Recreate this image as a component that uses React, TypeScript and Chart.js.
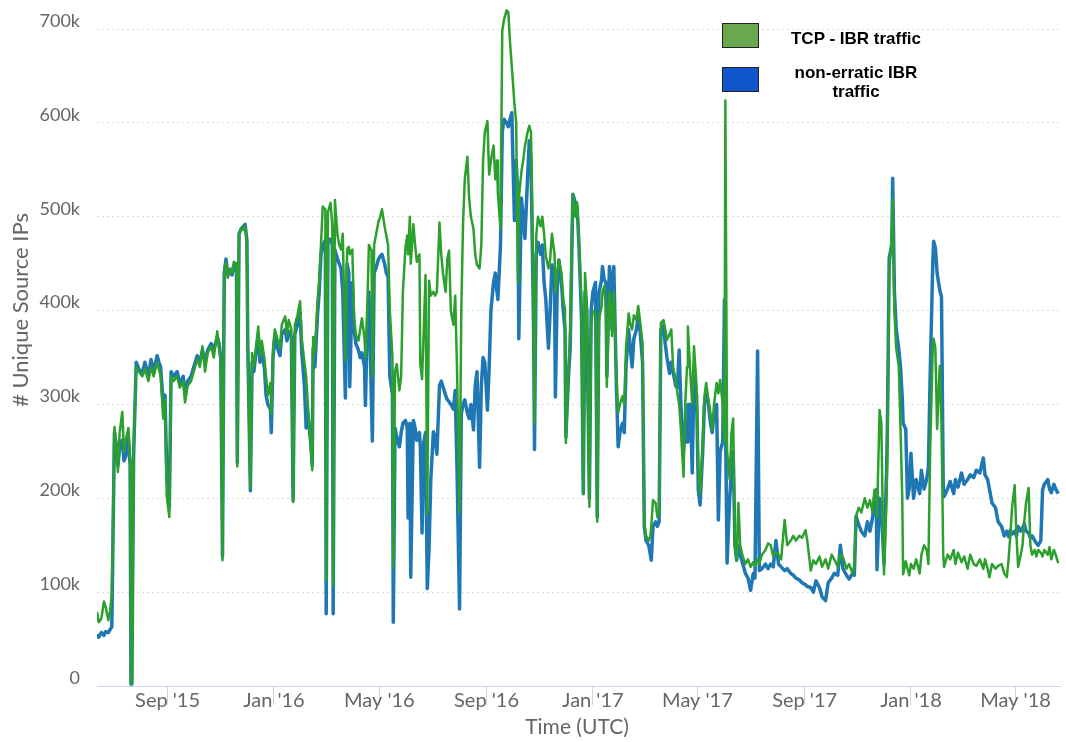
import React, { useEffect, useRef } from 'react';
import { Chart, registerables } from 'chart.js';

Chart.register(...registerables);

// Days counted from this date
const START_DATE = '2015-06-12';

const dayOffsets = [
  0, 2, 5, 8, 10, 13, 15, 17, 20, 22, 24, 26, 29, 31, 33, 36, 38, 39, 40, 42,
  45, 48, 52, 55, 59, 62, 65, 69, 71, 73, 76, 78, 80, 83, 85, 88, 92, 95, 99, 101,
  104, 108, 111, 115, 118, 121, 124, 127, 131, 134, 138, 140, 142, 144, 146, 148, 150, 153, 155, 157,
  160, 161, 163, 165, 168, 170, 172, 173, 176, 178, 180, 183, 185, 187, 189, 192, 194, 196, 199, 200,
  202, 204, 207, 210, 212, 216, 218, 220, 223, 225, 227, 230, 232, 233, 235, 238, 240, 242, 245, 247,
  248, 250, 253, 255, 257, 259, 262, 263, 265, 268, 270, 271, 273, 276, 278, 280, 282, 285, 287, 289,
  290, 293, 295, 297, 300, 302, 304, 307, 308, 310, 312, 315, 316, 318, 320, 323, 325, 327, 330, 332,
  334, 336, 339, 340, 342, 344, 347, 349, 351, 354, 356, 357, 359, 360, 363, 365, 367, 370, 371, 373,
  375, 377, 379, 381, 383, 386, 388, 390, 393, 395, 397, 400, 402, 404, 406, 409, 411, 413, 416, 418,
  420, 422, 425, 427, 429, 432, 434, 436, 439, 441, 443, 445, 448, 450, 452, 455, 457, 459, 460, 463,
  465, 467, 470, 472, 474, 476, 479, 481, 483, 484, 487, 489, 491, 494, 496, 498, 501, 502, 504, 506,
  509, 511, 513, 515, 518, 520, 522, 525, 526, 528, 530, 533, 535, 537, 538, 541, 543, 545, 546, 549,
  551, 553, 556, 558, 560, 562, 565, 567, 569, 572, 574, 576, 579, 580, 582, 584, 585, 588, 590, 591,
  593, 596, 598, 600, 603, 605, 607, 610, 612, 614, 616, 619, 621, 623, 626, 628, 630, 633, 635, 636,
  638, 641, 643, 645, 647, 650, 652, 654, 657, 659, 661, 664, 666, 668, 670, 673, 675, 677, 678, 681,
  683, 685, 688, 690, 692, 695, 697, 699, 701, 704, 706, 708, 711, 713, 715, 718, 720, 721, 723, 726,
  728, 730, 732, 734, 736, 738, 741, 744, 747, 750, 753, 755, 758, 760, 763, 767, 770, 773, 776, 779,
  782, 785, 789, 792, 796, 799, 802, 806, 809, 813, 815, 819, 822, 825, 829, 832, 836, 839, 843, 846,
  850, 853, 856, 860, 863, 867, 869, 871, 874, 877, 881, 884, 887, 890, 892, 894, 895, 898, 900, 902,
  903, 906, 907, 909, 912, 913, 915, 917, 920, 922, 924, 925, 928, 930, 932, 934, 937, 940, 944, 946,
  949, 952, 954, 956, 959, 960, 962, 964, 967, 969, 971, 972, 976, 979, 983, 985, 988, 992, 995, 999,
  1002, 1006, 1009, 1013, 1015, 1017, 1019, 1022, 1024, 1027, 1031, 1034, 1038, 1041, 1044, 1046, 1048, 1050, 1053, 1055,
  1057, 1060, 1062, 1064, 1066, 1069, 1071, 1073, 1076, 1078, 1080, 1083, 1085, 1087, 1091, 1093, 1095, 1098, 1100, 1103,
];

// Unique source IPs, in thousands
const tcpIbrTraffic = [
  79, 68, 72, 90, 84, 70, 80, 97, 276, 260, 228, 270, 292, 250, 262, 275, 240, 2, 2, 250,
  340, 335, 330, 338, 325, 340, 330, 345, 338, 330, 285, 305, 202, 180, 330, 325, 330, 318, 325, 302,
  320, 325, 335, 348, 340, 362, 335, 355, 362, 350, 378, 360, 345, 134, 445, 451, 435, 445, 440, 452,
  450, 234, 480, 488, 486, 490, 470, 362, 211, 355, 340, 365, 383, 352, 368, 350, 330, 310, 323, 290,
  360, 380, 370, 360, 385, 394, 375, 390, 380, 196, 385, 395, 405, 410, 370, 345, 330, 300, 260, 230,
  372, 355, 410, 433, 470, 511, 508, 113, 505, 515, 490, 107, 518, 480, 470, 465, 482, 347, 466, 468,
  460, 465, 392, 375, 368, 380, 392, 370, 350, 400, 470, 464, 330, 470, 480, 495, 500, 508, 490, 480,
  470, 400, 351, 126, 335, 343, 315, 330, 420, 468, 480, 460, 500, 450, 492, 470, 452, 460, 343, 327,
  380, 438, 183, 432, 416, 420, 416, 420, 494, 460, 440, 420, 455, 464, 400, 385, 416, 343, 185, 400,
  492, 540, 564, 520, 500, 487, 460, 449, 445, 470, 560, 590, 602, 545, 560, 576, 540, 560, 525, 487,
  698, 710, 720, 718, 685, 660, 620, 600, 430, 520, 548, 560, 575, 590, 597, 590, 400, 280, 480, 500,
  490, 500, 482, 458, 445, 455, 482, 460, 420, 440, 454, 440, 412, 402, 259, 337, 380, 487, 524, 500,
  515, 477, 402, 205, 440, 410, 191, 384, 400, 397, 175, 390, 405, 420, 426, 405, 319, 420, 400, 373,
  420, 330, 291, 300, 309, 300, 360, 397, 385, 380, 395, 390, 405, 390, 365, 173, 160, 155, 160, 170,
  198, 195, 180, 184, 387, 390, 380, 369, 375, 380, 340, 326, 312, 300, 273, 223, 300, 340, 383, 330,
  300, 362, 320, 230, 205, 260, 309, 323, 309, 290, 273, 300, 323, 312, 326, 300, 260, 624, 250, 220,
  270, 285, 150, 134, 195, 150, 138, 130, 135, 127, 132, 128, 135, 130, 140, 145, 152, 150, 138, 142,
  140, 135, 177, 150, 155, 160, 155, 160, 158, 166, 155, 123, 134, 130, 138, 127, 135, 125, 140, 135,
  127, 140, 137, 125, 130, 120, 128, 181, 190, 185, 200, 190, 198, 185, 209, 205, 180, 294, 280, 160,
  119, 200, 250, 441, 480, 519, 400, 360, 341, 274, 200, 119, 133, 125, 118, 130, 125, 135, 120, 140,
  150, 145, 130, 250, 360, 370, 360, 274, 341, 280, 140, 127, 140, 135, 145, 130, 142, 132, 138, 125,
  140, 130, 128, 135, 130, 125, 135, 125, 116, 130, 125, 128, 130, 120, 116, 135, 160, 190, 214, 160,
  127, 140, 150, 175, 195, 211, 150, 140, 145, 138, 145, 142, 138, 145, 140, 148, 135, 145, 140, 131,
];

const nonErraticIbrTraffic = [
  55, 52, 57, 54, 58, 57, 60, 63, 270, 258, 235, 255, 262, 240, 245, 265, 235, 2, 2, 245,
  345, 338, 333, 345, 330, 348, 335, 352, 345, 340, 300, 310, 230, 190, 335, 330, 335, 322, 330, 310,
  325, 330, 340, 352, 345, 358, 345, 358, 365, 358, 372, 365, 350, 138, 440, 455, 440, 442, 438, 448,
  450, 238, 482, 486, 490, 492, 475, 365, 208, 345, 335, 360, 375, 345, 358, 340, 310, 300, 295, 270,
  350, 372, 360, 352, 375, 380, 368, 378, 372, 198, 375, 385, 395, 398, 355, 320, 275, 290, 262, 235,
  360, 340, 395, 420, 460, 470, 475, 77, 476, 476, 470, 77, 465, 455, 450, 445, 420, 307, 450, 440,
  319, 430, 380, 365, 358, 350, 355, 340, 299, 380, 420, 300, 261, 440, 445, 455, 458, 460, 450, 440,
  436, 330, 311, 68, 275, 265, 255, 270, 280, 283, 275, 179, 280, 116, 283, 275, 262, 270, 255, 163,
  260, 270, 104, 147, 220, 271, 265, 247, 320, 325, 319, 310, 305, 303, 300, 295, 315, 237, 82, 290,
  300, 305, 291, 285, 300, 273, 320, 335, 233, 320, 350, 345, 294, 340, 400, 430, 440, 420, 412, 470,
  590, 604, 600, 596, 604, 611, 496, 560, 520, 370, 520, 500, 477, 540, 581, 560, 380, 252, 460, 473,
  460, 470, 430, 412, 360, 400, 449, 430, 308, 420, 454, 430, 400, 380, 265, 330, 360, 470, 524, 515,
  510, 470, 390, 205, 420, 400, 200, 400, 420, 430, 180, 419, 433, 447, 433, 430, 330, 447, 430, 380,
  447, 320, 255, 270, 280, 270, 340, 380, 360, 340, 370, 380, 395, 380, 345, 170, 155, 150, 140, 134,
  170, 175, 170, 175, 380, 385, 365, 350, 333, 345, 335, 320, 318, 358, 300, 250, 280, 260, 300, 300,
  227, 330, 310, 209, 193, 250, 300, 310, 305, 280, 270, 290, 300, 177, 250, 260, 412, 300, 131, 200,
  230, 250, 150, 134, 150, 140, 130, 120, 115, 102, 120, 115, 357, 123, 125, 130, 125, 130, 127, 155,
  130, 127, 123, 125, 120, 118, 115, 113, 110, 108, 106, 105, 100, 112, 105, 95, 91, 110, 115, 120,
  118, 150, 125, 118, 114, 120, 118, 181, 172, 165, 160, 175, 165, 180, 200, 209, 124, 200, 190, 150,
  130, 230, 281, 456, 470, 541, 420, 381, 359, 340, 307, 280, 274, 200, 211, 248, 200, 220, 205, 230,
  210, 220, 233, 330, 450, 474, 467, 440, 422, 415, 215, 202, 210, 218, 205, 220, 212, 227, 215, 220,
  225, 222, 230, 227, 235, 243, 225, 220, 210, 195, 190, 175, 170, 160, 165, 159, 166, 162, 165, 160,
  170, 165, 168, 173, 165, 163, 158, 160, 155, 152, 150, 155, 209, 215, 220, 210, 206, 215, 210, 205,
];

const xTickDates = [
  '2015-09-01', '2016-01-01', '2016-05-01', '2016-09-01', '2017-01-01',
  '2017-05-01', '2017-09-01', '2018-01-01', '2018-05-01',
];
const yTickValues = [0, 100, 200, 300, 400, 500, 600, 700];
const MONTH_NAMES = ['Jan', 'Feb', 'Mar', 'Apr', 'May', 'Jun', 'Jul', 'Aug', 'Sep', 'Oct', 'Nov', 'Dec'];

const DAY_MS = 86400000;
const startMs = Date.parse(START_DATE);
const dayOf = (iso: string) => Math.round((Date.parse(iso) - startMs) / DAY_MS);
const formatDay = (day: number) => {
  const d = new Date(startMs + day * DAY_MS);
  return `${MONTH_NAMES[d.getUTCMonth()]} '${String(d.getUTCFullYear()).slice(2)}`;
};

const GREY = '#666666';

const axisTitles = {
  id: 'axisTitles',
  afterDraw(chart: any) {
    const ctx = chart.ctx;
    ctx.save();
    ctx.fillStyle = GREY;
    ctx.textAlign = 'center';
    ctx.textBaseline = 'middle';
    ctx.font = '22px Lato';
    ctx.translate(21, 310);
    ctx.rotate(-Math.PI / 2);
    ctx.fillText('# Unique Source IPs', 0, 0);
    ctx.restore();
    ctx.save();
    ctx.fillStyle = GREY;
    ctx.textAlign = 'center';
    ctx.textBaseline = 'middle';
    ctx.font = '21px Lato';
    ctx.fillText('Time (UTC)', 577, 727);
    ctx.restore();
  },
};

export default function App() {
  const canvasRef = useRef<HTMLCanvasElement | null>(null);

  useEffect(() => {
    if (!canvasRef.current) return;
    const chart = new Chart(canvasRef.current, {
      type: 'line',
      data: {
        datasets: [
          {
            label: 'TCP - IBR traffic',
            data: dayOffsets.map((d, i) => ({ x: d, y: tcpIbrTraffic[i] })),
            borderColor: '#2ca02c',
            backgroundColor: '#2ca02c',
            borderWidth: 2.5,
            pointRadius: 0,
            tension: 0,
            borderJoinStyle: 'round',
            fill: false,
          },
          {
            label: 'non-erratic IBR traffic',
            data: dayOffsets.map((d, i) => ({ x: d, y: nonErraticIbrTraffic[i] })),
            borderColor: '#1f77b4',
            backgroundColor: '#1f77b4',
            borderWidth: 3.5,
            pointRadius: 0,
            tension: 0,
            borderJoinStyle: 'round',
            fill: false,
          },
        ],
      },
      options: {
        animation: false,
        responsive: false,
        devicePixelRatio: 1,
        layout: { padding: { top: 1, right: 6, left: 0, bottom: 0 } },
        plugins: { legend: { display: false }, tooltip: { enabled: false } },
        scales: {
          x: {
            type: 'linear',
            min: 0,
            max: 1105,
            afterBuildTicks: (s: any) => {
              s.ticks = xTickDates.map((d) => ({ value: dayOf(d) }));
            },
            afterFit: (s: any) => {
              s.height = 56;
              s.paddingLeft = 0;
              s.paddingRight = 0;
            },
            grid: {
              display: true,
              drawOnChartArea: false,
              drawTicks: true,
              tickLength: 19,
              color: '#ccd6eb',
              lineWidth: 1,
            },
            border: { display: true, color: '#ccd6eb', width: 1 },
            ticks: {
              color: GREY,
              font: { family: 'Lato', size: 20 },
              padding: -16,
              maxRotation: 0,
              autoSkip: false,
              callback: (v: any) => formatDay(Number(v)),
            },
          },
          y: {
            min: 0,
            max: 730,
            afterBuildTicks: (s: any) => {
              s.ticks = yTickValues.map((v) => ({ value: v }));
            },
            afterFit: (s: any) => {
              s.width = 97;
              s.paddingTop = 0;
              s.paddingBottom = 0;
            },
            grid: { color: '#dcdcdc', drawTicks: false, lineWidth: 1 },
            border: { display: false, dash: [2, 3] },
            ticks: {
              color: GREY,
              font: { family: 'Lato', size: 18 },
              padding: 17,
              labelOffset: -8,
              callback: (v: any) => (Number(v) === 0 ? '0' : `${v}k`),
            },
          },
        },
      },
      plugins: [axisTitles],
    } as any);
    return () => chart.destroy();
  }, []);

  const legendText: React.CSSProperties = {
    position: 'absolute',
    fontFamily: '"Liberation Sans", Arial, sans-serif',
    fontWeight: 'bold',
    fontSize: 17,
    color: '#000',
    textAlign: 'center',
    width: 170,
    left: 771,
    lineHeight: '19px',
  };
  const box: React.CSSProperties = {
    position: 'absolute',
    left: 722,
    width: 37,
    height: 25,
    border: '1px solid #222',
    boxSizing: 'border-box',
  };

  return (
    <div style={{ position: 'absolute', left: 0, top: 0, width: 1066, height: 742, background: '#fff' }}>
      <canvas ref={canvasRef} width={1066} height={742} style={{ display: 'block' }} />
      <div style={{ ...box, top: 23, background: '#6aa84f' }} />
      <div style={{ ...legendText, top: 29 }}>TCP - IBR traffic</div>
      <div style={{ ...box, top: 67, background: '#1155cc' }} />
      <div style={{ ...legendText, top: 63 }}>non-erratic IBR<br />traffic</div>
    </div>
  );
}
